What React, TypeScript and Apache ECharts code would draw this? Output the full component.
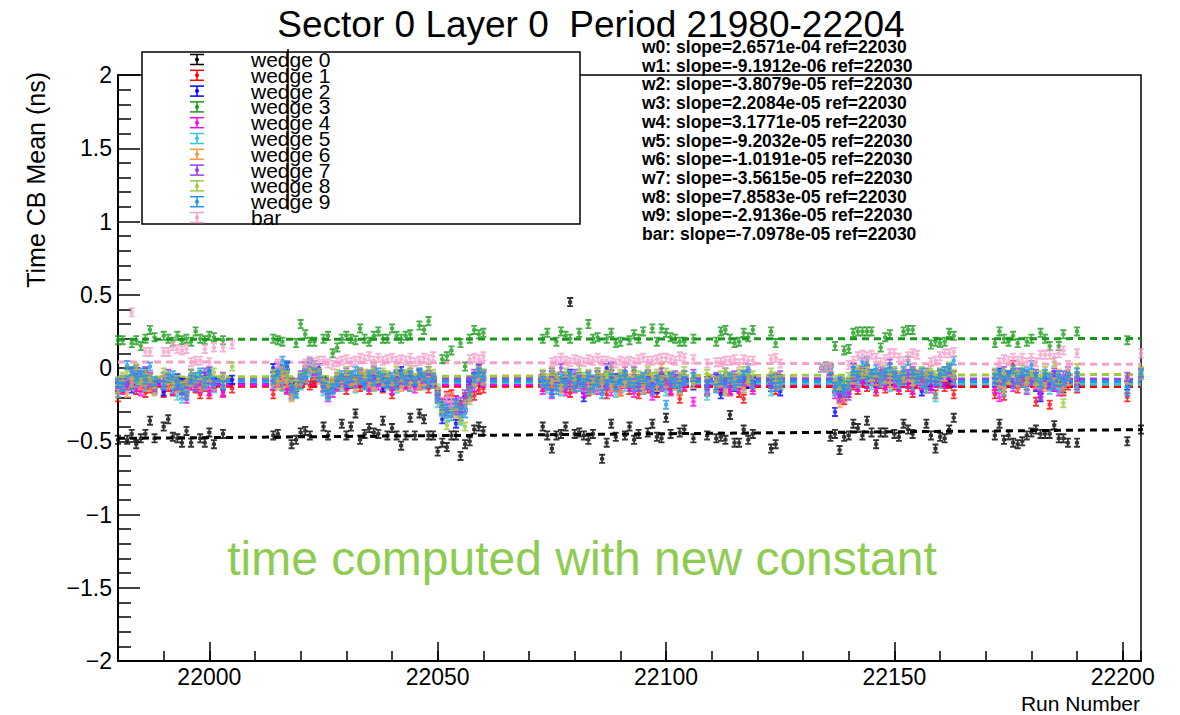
import React, { useEffect, useRef } from 'react';
import * as echarts from 'echarts';

// ---- run numbers (x categories), grouped by data-taking block ----
const RUNS_A = [21980, 21981, 21982, 21983, 21984, 21985, 21986, 21987, 21988, 21990, 21991, 21992, 21993, 21994, 21995, 21996, 21997, 21998, 21999, 22000, 22001, 22003, 22005];
const RUNS_B = [22014, 22015, 22016, 22017, 22018, 22019, 22020, 22021, 22022, 22023, 22024, 22025, 22026, 22027, 22028, 22029, 22030, 22031, 22032, 22033, 22034, 22035, 22036, 22037, 22038, 22039, 22040, 22041, 22042, 22043, 22044, 22045, 22046, 22047, 22048, 22049, 22050, 22051, 22052, 22053, 22054, 22055, 22056, 22057, 22058, 22059, 22060];
const RUNS_C = [22073, 22074, 22075, 22076, 22077, 22078, 22079, 22080, 22081, 22082, 22083, 22084, 22085, 22086, 22087, 22088, 22089, 22090, 22091, 22092, 22093, 22094, 22095, 22096, 22097, 22098, 22099, 22100, 22101, 22102, 22103, 22104, 22106, 22109, 22111, 22112, 22113, 22114, 22115, 22116, 22117, 22118, 22119, 22123, 22124, 22125];
const RUNS_D = [22134, 22135, 22136, 22137, 22138, 22139, 22140, 22141, 22142, 22143, 22144, 22145, 22146, 22147, 22148, 22149, 22150, 22151, 22152, 22153, 22154, 22155, 22156, 22157, 22158, 22159, 22160, 22161, 22162, 22163];
const RUNS_E = [22172, 22173, 22174, 22175, 22176, 22177, 22178, 22179, 22180, 22181, 22182, 22183, 22184, 22185, 22186, 22187, 22188, 22190];
const RUNS_F = [22201, 22204];
const RUNS = [...RUNS_A, ...RUNS_B, ...RUNS_C, ...RUNS_D, ...RUNS_E, ...RUNS_F];

// ---- Time CB mean (ns) per run, one array per wedge (blocks A..F) ----
const W0 = [
  -.49, null, -.49, -.45, -.52, -.48, -.45, -.36, -.48, -.40, -.35, -.47, -.48, -.51, -.43, -.51, null, -.48, -.51, -.44, -.52, -.45, null,
  -.46, -.45, null, null, -.52, -.49, -.44, -.43, -.46, null, null, -.40, -.46, null, null, -.38, -.46, -.40, -.31, -.49, -.45, -.41, -.44, -.45, -.36, -.46, -.41, -.46, -.53, -.46, -.34, -.46, -.31, -.35, -.46, -.46, -.57, -.51, -.54, -.46, -.46, -.60, -.52, -.50, -.42, -.40, -.43,
  -.40, -.46, -.55, -.46, -.45, -.40, .45, -.45, -.44, -.46, -.49, -.45, null, -.62, -.51, -.38, -.47, null, -.46, -.40, -.49, -.45, null, -.44, -.38, -.47, -.48, -.34, -.45, null, -.44, -.42, -.48, -.46, -.48, -.47, -.49, -.32, -.51, -.51, -.42, -.49, -.45, -.55, -.52, null,
  .00, .00, -.47, -.45, -.56, -.47, -.46, -.38, -.41, -.46, -.36, -.44, -.52, -.44, -.44, null, -.45, -.47, -.38, -.42, -.45, null, null, -.38, -.46, -.55, -.47, -.48, -.42, -.34,
  -.46, -.38, -.49, -.46, -.51, -.52, -.50, -.46, -.44, -.42, -.45, -.45, -.45, -.39, -.48, -.48, -.51, -.51,
  -.50, -.42,
];
const W1 = [
  -.20, -.14, -.12, -.11, -.15, -.13, -.17, -.14, -.12, -.17, -.13, -.16, -.12, -.15, -.10, -.12, -.14, -.18, -.13, -.18, -.12, -.16, -.14,
  -.18, -.07, -.12, -.14, -.16, -.13, -.11, -.08, -.12, -.10, -.06, -.13, -.17, -.14, -.12, -.10, -.15, -.11, -.09, -.13, -.11, -.15, -.12, -.08, -.14, -.10, -.18, -.12, -.09, -.11, -.13, -.08, -.12, -.10, -.14, -.11, -.21, -.28, -.19, -.18, -.22, -.25, -.20, -.17, -.19, -.15, -.14,
  -.13, -.10, -.15, -.12, -.09, -.14, -.17, -.11, -.13, -.08, -.16, -.12, -.10, -.14, -.18, -.09, -.13, -.16, -.11, -.15, -.12, -.18, -.10, -.14, -.13, -.17, -.08, -.12, -.15, -.11, -.21, -.13, -.10, -.16, -.12, -.14, -.09, -.15, -.12, -.17, -.21, -.11, -.13, -.10, -.15, -.12,
  .00, .00, -.01, -.14, -.19, -.22, -.17, -.12, -.15, -.10, -.13, -.09, -.16, -.11, -.14, -.08, -.12, -.15, -.10, -.13, -.17, -.11, -.09, -.14, -.12, -.18, -.10, -.13, -.11, -.18,
  -.18, -.12, -.19, -.10, .02, -.14, -.09, -.12, -.08, -.23, -.15, -.11, -.25, -.13, -.10, -.16, -.12, -.14,
  -.20, null,
];
const W2 = [
  -.13, -.10, -.08, -.14, -.05, -.09, -.03, -.07, -.11, -.16, -.08, -.12, -.07, -.10, -.14, -.04, -.09, -.13, -.06, -.02, -.10, -.12, -.08,
  .00, -.05, -.02, .01, -.10, -.13, -.08, -.04, .02, -.03, .00, -.09, -.14, -.12, -.10, -.07, -.11, -.05, -.08, -.03, -.06, -.10, -.04, -.09, -.13, -.07, -.11, -.05, -.02, -.08, -.06, -.10, -.04, -.07, -.05, -.09, -.18, -.35, -.30, -.24, -.38, -.33, -.22, -.12, -.06, .00, -.04,
  -.07, -.11, -.05, -.09, -.13, -.08, -.04, -.10, -.06, -.20, -.12, -.08, -.05, -.09, .00, .01, -.07, -.11, -.06, -.10, -.02, -.08, -.12, -.05, -.09, -.14, -.07, -.10, -.06, -.11, -.08, -.05, -.12, -.09, -.07, -.18, -.10, -.06, -.13, -.08, -.05, -.11, -.09, -.13, -.07, -.16,
  .00, .00, .00, -.30, -.16, -.12, -.10, .00, -.06, -.03, -.08, -.05, -.10, -.07, -.04, -.09, -.06, -.11, -.05, -.08, -.03, -.07, -.16, -.10, -.12, -.08, -.05, -.09, -.06, -.10,
  -.10, -.03, -.08, -.05, -.11, -.07, -.04, -.09, -.06, -.13, -.20, -.08, -.12, -.05, -.09, -.14, -.07, -.10,
  -.12, null,
];
const W3 = [
  .19, .19, null, .17, .19, .15, .20, .26, .21, .22, .20, .18, .22, .19, .20, .18, .25, .20, .19, .22, .21, .19, null,
  .20, .19, .18, null, null, .17, .30, .23, .18, .18, null, .20, .22, .10, .14, .20, .22, .20, .19, .27, .20, .18, .22, .25, .20, .20, .27, .22, .20, .22, .23, null, .29, .26, .32, null, null, .06, .08, .12, null, .17, .01, .20, .26, .23, .24,
  .20, .24, null, .18, .25, .22, .20, null, .24, null, .30, .20, .21, null, .20, .24, .17, .18, null, .19, .23, .20, .25, null, .27, .18, .27, .24, .21, .20, .18, .18, .20, null, .18, .25, .26, .20, .17, .18, .24, .21, .26, .25, .17, null,
  null, null, null, .15, null, .12, .13, .24, .25, .25, .25, .25, null, .14, .21, .23, null, null, .25, .26, .26, null, null, null, .16, .18, .17, .18, .24, .22,
  .17, .25, .20, .18, .22, .17, null, .18, .20, null, .24, .20, .15, null, .15, .23, null, .25,
  .19, null,
];
const W4 = [
  -.12, -.15, -.10, -.08, -.13, -.16, -.11, -.06, -.14, -.12, -.09, -.15, -.13, -.18, -.21, -.12, -.10, -.14, -.11, -.16, -.13, -.17, null,
  -.12, -.10, -.08, -.15, -.18, -.12, -.09, -.05, -.01, -.04, -.07, -.14, -.20, -.17, -.13, -.09, -.12, -.08, -.11, -.06, -.10, -.13, -.07, -.12, -.09, -.11, -.15, -.10, -.07, -.12, -.09, -.14, -.08, -.11, -.06, -.10, -.19, -.26, -.31, -.27, -.22, -.30, -.27, -.20, -.13, -.08, -.10,
  -.15, -.12, -.18, -.09, -.13, -.16, -.10, -.14, -.11, -.17, -.08, -.13, -.15, -.10, -.12, -.16, -.09, -.14, -.11, -.13, -.17, -.10, -.15, -.12, -.19, -.08, -.13, -.11, -.16, -.10, -.14, -.12, -.23, -.15, -.09, -.13, -.11, -.16, -.10, -.14, -.12, -.09, -.15, -.11, -.13, -.10,
  .00, .00, -.02, -.18, -.21, -.20, -.15, -.10, -.13, -.08, -.11, -.07, -.14, -.09, -.12, -.06, -.10, -.13, -.08, -.11, -.15, -.09, -.12, -.07, -.14, -.10, -.08, -.11, -.05, -.09,
  -.14, -.20, -.11, -.08, -.13, -.06, -.10, -.15, -.09, -.12, -.17, -.11, -.07, -.13, -.16, -.10, -.08, -.12,
  null, null,
];
const W5 = [
  -.17, -.13, -.09, -.12, -.10, -.07, -.13, -.09, -.15, -.11, -.08, -.14, -.19, -.21, -.16, -.10, -.13, -.05, -.12, -.09, -.14, -.11, null,
  -.11, -.08, -.13, -.06, -.19, -.18, -.12, -.07, -.03, .00, -.05, -.16, -.19, -.15, -.11, -.13, -.08, -.10, -.14, -.07, -.11, -.09, -.13, -.06, -.10, -.12, -.08, -.14, -.11, -.09, -.13, -.07, -.10, -.12, -.08, -.11, -.24, -.30, -.34, -.28, -.25, -.36, -.25, -.18, -.10, -.06, -.09,
  -.10, -.14, -.08, -.12, -.16, -.09, -.11, -.07, -.13, -.10, -.15, -.08, -.12, -.14, -.06, -.11, -.17, -.09, -.13, -.10, -.08, -.12, -.15, -.07, -.11, -.13, -.09, -.16, -.10, -.12, -.14, -.08, -.11, -.19, -.13, -.09, -.15, -.07, -.12, -.10, -.14, -.08, -.11, -.16, -.09, -.12,
  .00, .01, -.03, -.16, -.14, -.18, -.11, -.07, -.10, -.05, -.09, -.12, -.06, -.10, -.08, -.13, -.07, -.11, -.09, -.05, -.12, -.08, -.10, -.14, -.07, -.20, -.11, -.06, -.03, -.08,
  -.09, -.13, -.16, -.07, -.11, -.05, -.10, -.14, -.08, -.06, -.12, -.09, -.15, -.07, -.14, -.11, -.09, -.13,
  -.10, null,
];
const W6 = [
  -.14, -.11, -.17, -.10, -.06, -.12, -.09, -.13, -.16, -.08, -.11, -.10, -.14, -.12, -.17, -.09, -.11, -.13, -.10, -.07, -.12, -.10, null,
  -.09, -.12, -.06, -.10, -.20, -.15, -.08, -.02, .01, -.05, -.08, -.12, -.16, -.10, -.07, -.11, -.05, -.09, -.13, -.08, -.04, -.10, -.12, -.07, -.09, -.06, -.11, -.08, -.13, -.05, -.10, -.07, -.12, -.09, -.06, -.08, -.17, -.23, -.28, -.20, -.31, -.26, -.21, -.15, -.09, -.05, -.08,
  -.08, -.12, -.10, -.06, -.14, -.11, -.09, -.13, -.07, -.12, -.10, -.15, -.08, -.11, -.05, -.13, -.09, -.16, -.10, -.07, -.12, -.09, -.14, -.11, -.06, -.13, .00, -.10, -.08, -.12, -.15, -.09, -.11, -.07, -.13, -.10, -.16, -.08, -.12, -.10, -.14, -.09, -.11, -.07, -.12, -.10,
  .00, .00, -.02, -.12, -.24, -.20, -.13, -.08, -.05, -.02, .04, -.06, -.09, -.04, -.07, -.10, -.05, -.08, -.03, -.06, -.09, -.04, -.07, -.11, -.05, -.08, -.03, -.06, -.02, -.05,
  -.06, -.10, -.14, -.08, -.03, -.12, -.07, -.09, -.05, -.11, -.08, -.13, -.06, -.10, -.04, -.15, -.09, -.07,
  -.08, -.05,
];
const W7 = [
  -.11, -.08, -.12, -.03, -.01, -.05, -.02, -.10, -.13, -.06, -.04, -.09, -.12, -.15, -.11, -.07, -.13, -.09, -.03, -.08, -.11, -.06, null,
  -.06, .00, -.01, -.04, -.12, -.10, -.05, .01, .03, -.02, -.04, -.10, -.15, -.11, -.06, -.08, -.03, -.07, -.10, -.04, -.08, -.06, -.02, -.09, -.05, -.07, -.11, -.04, -.08, -.06, -.03, -.09, -.05, -.07, -.02, -.06, -.16, -.24, -.22, -.25, -.29, -.23, -.18, -.09, -.04, -.01, -.05,
  -.05, -.09, -.03, -.07, .00, -.06, -.10, -.04, -.08, -.12, -.05, -.09, -.03, -.07, -.11, -.04, -.08, -.06, -.02, -.09, -.05, -.13, -.07, -.04, -.10, -.06, -.03, -.08, -.11, -.05, -.07, -.09, -.04, -.12, -.06, -.08, -.03, -.10, -.05, -.07, -.09, -.04, -.08, -.11, -.06, -.05,
  .00, .01, -.02, -.10, -.20, -.17, -.19, -.06, -.03, -.05, -.01, -.04, -.07, -.02, -.05, .03, -.03, -.06, -.08, -.04, -.02, -.05, -.07, -.03, -.06, -.09, -.04, -.02, -.01, -.05,
  -.04, -.08, -.02, -.06, -.10, -.03, -.07, -.05, -.09, -.04, -.19, -.06, -.11, -.03, -.08, -.05, -.02, -.06,
  -.06, -.03,
];
const W8 = [
  -.09, -.06, -.02, -.05, .00, -.08, -.04, -.07, -.11, -.03, -.06, -.10, -.08, -.13, -.09, -.04, -.07, -.05, -.09, -.06, -.03, -.07, .01,
  -.04, -.06, -.02, -.05, -.09, -.11, -.06, -.01, .02, .00, -.03, -.08, -.12, -.09, -.04, -.07, -.02, -.05, -.08, -.03, -.06, -.04, -.01, -.07, -.03, -.05, -.09, -.02, -.06, -.04, -.01, -.07, -.03, -.05, .00, -.04, -.14, -.27, -.39, -.30, -.26, -.35, -.40, -.22, -.08, -.02, -.04,
  -.04, -.07, -.02, -.06, -.09, -.03, -.05, -.08, -.01, -.06, -.04, -.10, -.03, -.07, -.05, -.02, -.08, -.04, -.06, -.09, -.03, -.05, -.07, -.02, -.06, -.04, -.08, -.03, -.05, -.10, -.06, -.02, -.07, -.04, -.09, -.05, -.03, -.06, -.08, -.04, -.02, -.07, -.05, -.03, -.06, -.08,
  .00, .01, .00, -.08, -.12, -.10, -.06, -.03, -.01, -.04, -.02, -.05, -.03, -.06, -.01, -.04, -.02, -.05, -.07, .05, -.03, -.06, -.02, -.04, -.01, -.05, -.03, -.02, .01, -.04,
  -.03, -.06, -.04, -.08, -.02, -.05, -.01, -.07, -.03, -.09, -.05, -.02, -.06, .04, -.08, -.24, -.04, .00,
  null, -.02,
];
const W9 = [
  -.10, -.13, .02, -.02, -.06, -.03, -.08, .01, -.09, -.12, -.07, -.05, -.11, -.14, -.19, -.08, -.06, -.03, -.10, -.04, -.09, -.12, null,
  -.08, -.03, .05, .02, -.14, -.17, -.07, -.03, .04, .02, -.06, -.13, -.18, -.14, -.09, -.05, -.10, -.06, -.02, -.08, -.12, -.05, -.09, -.03, -.07, -.10, -.06, -.11, -.04, -.08, -.05, -.09, -.03, -.06, -.10, -.07, -.20, -.26, -.28, -.33, -.24, -.29, -.31, -.16, -.07, -.03, -.06,
  -.09, -.12, -.17, -.15, -.07, -.11, -.05, -.13, -.08, -.10, -.06, -.14, -.09, -.18, -.11, -.07, -.12, -.08, -.05, -.10, -.13, -.09, -.06, -.11, -.15, -.08, -.12, -.25, -.07, -.10, -.13, -.09, -.06, -.11, -.14, -.08, -.10, -.07, -.12, -.09, -.05, .00, -.11, -.08, -.13, -.10,
  .00, .00, -.01, -.13, -.09, -.15, -.12, -.02, -.05, .04, .05, -.04, -.01, -.06, -.03, .00, -.05, -.08, -.02, .05, -.04, -.07, -.03, -.11, -.06, -.09, -.04, -.02, .00, .05,
  -.07, -.04, -.09, -.05, -.01, -.08, -.03, -.02, .02, -.06, -.10, -.04, -.07, -.12, -.05, -.09, -.06, -.03,
  -.16, -.04,
];
const BAR = [
  null, null, null, .38, null, null, .11, .11, null, .11, .11, .15, .13, .12, .13, .04, .05, .05, .13, .04, .14, .14, .16,
  null, .03, null, null, null, null, null, .03, .05, .04, .05, .05, .03, .02, .04, .05, .06, .04, .05, .07, .06, .08, .05, .07, .05, .06, .07, .05, .06, .05, .07, .04, .05, .07, .06, .08, null, null, -.20, -.23, null, null, null, .06, .07, .06, .08,
  null, null, .04, .05, .07, .05, .04, .06, .05, .04, .06, .05, .07, .05, .05, .04, .03, .05, .04, .05, .04, .06, .07, .05, .05, .06, .07, .07, .06, .05, .08, .07, .06, .03, .04, .04, .05, .05, .06, .03, .06, .05, .05, .06, .07, .03,
  .00, .00, .01, null, null, null, .02, .05, .08, .09, .08, .09, .07, .04, .06, .10, .10, .07, .05, .08, .10, .09, null, null, .04, .05, .08, .10, .10, .11,
  null, .04, .06, .05, .07, .05, .07, .04, .07, .04, .09, .09, .09, .07, .10, .12, .02, .10,
  null, .10,
];

// ---- series meta + linear fits (value at ref run, slope per run) ----
const SERIES_NAMES = ['wedge 0', 'wedge 1', 'wedge 2', 'wedge 3', 'wedge 4', 'wedge 5', 'wedge 6', 'wedge 7', 'wedge 8', 'wedge 9', 'bar'];
const SHORT_NAMES = ['w0', 'w1', 'w2', 'w3', 'w4', 'w5', 'w6', 'w7', 'w8', 'w9', 'bar'];
const COLORS = ['#000000', '#ff0000', '#0000ff', '#1a9a1a', '#ff00ff', '#33cccc', '#f79a45', '#9a3df0', '#9ccb3c', '#1e96f0', '#f5a0cb'];
const FIT_SLOPES = [2.6571e-04, -9.1912e-06, -3.8079e-05, 2.2084e-05, 3.1771e-05, -9.2032e-05, -1.0191e-05, -3.5615e-05, 7.8583e-05, -2.9136e-05, -7.0978e-05];
const FIT_AT_REF = [-0.467, -0.125, -0.100, 0.197, -0.113, -0.095, -0.080, -0.070, -0.058, -0.088, 0.038];
const REF_RUN = 22030;
const RUN_MIN = 21980;
const RUN_MAX = 22204;
const X_MAJOR = [22000, 22050, 22100, 22150, 22200];
const TITLE = 'Sector 0 Layer 0  Period 21980-22204';
const NOTE = 'time computed with new constant';

const ALL_VALUES = [W0, W1, W2, W3, W4, W5, W6, W7, W8, W9, BAR];

const FONT = '"Liberation Sans", Arial, Helvetica, sans-serif';
const ERR_SYMBOL = 'path://M0,0H10V3H6.5V5.5H8.5V10.5H6.5V13H10V16H0V13H3.5V10.5H1.5V5.5H3.5V3H0Z';

function fmtSlope(s: number) {
  return s.toExponential(4).replace(/e([+-])(\d)$/, 'e$10$2');
}

function buildOption() {
  const series: any[] = [];
  ALL_VALUES.forEach((vals, k) => {
    const data: number[][] = [];
    RUNS.forEach((r, i) => {
      const v = vals[i];
      if (v !== null && v !== undefined) data.push([r, v]);
    });
    series.push({
      type: 'scatter',
      name: SERIES_NAMES[k],
      data,
      symbol: ERR_SYMBOL,
      symbolSize: [6, 10],
      itemStyle: { color: COLORS[k] },
      silent: true,
      z: 2,
    });
    const a = FIT_AT_REF[k];
    const s = FIT_SLOPES[k];
    series.push({
      type: 'line',
      data: [
        [RUN_MIN, a + s * (RUN_MIN - REF_RUN)],
        [RUN_MAX, a + s * (RUN_MAX - REF_RUN)],
      ],
      symbol: 'none',
      lineStyle: { color: COLORS[k], width: 3, type: [7, 5] },
      silent: true,
      z: 2,
    });
  });

  const graphic: any[] = [];
  graphic.push({
    type: 'text', x: 591, y: 24,
    style: { text: TITLE, fill: '#000', fontSize: 37, fontFamily: FONT, align: 'center', verticalAlign: 'middle' },
  });
  graphic.push({
    type: 'text', x: 36, y: 72, rotation: Math.PI / 2,
    style: { text: 'Time CB Mean (ns)', fill: '#000', fontSize: 25, fontFamily: FONT, align: 'right', verticalAlign: 'middle' },
  });
  graphic.push({
    type: 'text', x: 1140, y: 703,
    style: { text: 'Run Number', fill: '#000', fontSize: 21, fontFamily: FONT, align: 'right', verticalAlign: 'middle' },
  });
  graphic.push({
    type: 'text', x: 582, y: 558,
    style: { text: NOTE, fill: '#8dcc50', fontSize: 48, fontFamily: FONT, align: 'center', verticalAlign: 'middle' },
  });
  SHORT_NAMES.forEach((n, i) => {
    graphic.push({
      type: 'text', x: 642, y: 47 + i * 18.7,
      style: {
        text: `${n}: slope=${fmtSlope(FIT_SLOPES[i])} ref=${REF_RUN}`,
        fill: '#000', fontSize: 17.5, fontWeight: 'bold', fontFamily: FONT, align: 'left', verticalAlign: 'middle',
      },
    });
  });
  graphic.push({
    type: 'rect', shape: { x: 142, y: 52, width: 438, height: 172 },
    style: { fill: '#fff', stroke: '#000', lineWidth: 1.5 }, z: 10,
  });
  SERIES_NAMES.forEach((n, i) => {
    const y = 59.5 + i * 15.8;
    const c = COLORS[i];
    const gx = 197;
    graphic.push({ type: 'line', shape: { x1: gx, y1: y - 5, x2: gx, y2: y + 5 }, style: { stroke: c, lineWidth: 1.5 }, z: 11 });
    graphic.push({ type: 'line', shape: { x1: gx - 7, y1: y - 5, x2: gx + 7, y2: y - 5 }, style: { stroke: c, lineWidth: 1.5 }, z: 11 });
    graphic.push({ type: 'line', shape: { x1: gx - 7, y1: y + 5, x2: gx + 7, y2: y + 5 }, style: { stroke: c, lineWidth: 1.5 }, z: 11 });
    graphic.push({ type: 'circle', shape: { cx: gx, cy: y, r: 2 }, style: { fill: c }, z: 11 });
    graphic.push({
      type: 'text', x: 251, y, z: 11,
      style: { text: n, fill: '#000', fontSize: 21, fontFamily: FONT, align: 'left', verticalAlign: 'middle' },
    });
  });
  graphic.push({ type: 'line', shape: { x1: 288, y1: 49, x2: 288, y2: 210 }, style: { stroke: '#000', lineWidth: 1.5 }, z: 12 });

  const tickLabel = { color: '#000', fontSize: 23, fontFamily: FONT };

  return {
    animation: false,
    backgroundColor: '#fff',
    grid: { left: 118, top: 75, width: 1023, height: 586, show: true, borderColor: '#000', borderWidth: 1.5, backgroundColor: 'transparent' },
    xAxis: [
      {
        type: 'value', min: RUN_MIN, max: RUN_MAX, position: 'bottom',
        axisLine: { show: true, onZero: false, lineStyle: { color: '#000', width: 2 } },
        axisTick: { show: true, inside: true, length: 19, customValues: X_MAJOR, lineStyle: { color: '#000', width: 1.5 } },
        axisLabel: { ...tickLabel, margin: 4, customValues: X_MAJOR, formatter: (v: number) => String(v) },
        splitLine: { show: false },
      },
      {
        type: 'value', min: RUN_MIN, max: RUN_MAX, interval: 10, position: 'bottom', offset: 0,
        axisLine: { show: false, onZero: false },
        axisTick: { show: true, inside: true, length: 10, lineStyle: { color: '#000', width: 1.5 } },
        axisLabel: { show: false },
        splitLine: { show: false },
      },
    ],
    yAxis: {
      type: 'value', min: -2, max: 2, interval: 0.5,
      axisLine: { show: true, onZero: false, lineStyle: { color: '#000', width: 2 } },
      axisTick: { show: true, inside: true, length: 22, lineStyle: { color: '#000', width: 1.5 } },
      minorTick: { show: true, splitNumber: 5, length: 13, lineStyle: { color: '#000', width: 1.5 } },
      axisLabel: { ...tickLabel, margin: 6, formatter: (v: number) => (v < 0 ? '\u2212' + String(-v) : String(Math.abs(v))) },
      splitLine: { show: false },
    },
    series,
    graphic,
  };
}

export default function App() {
  const ref = useRef<HTMLDivElement>(null);
  useEffect(() => {
    if (!ref.current) return;
    const chart = echarts.init(ref.current, null, { renderer: 'svg' });
    chart.setOption(buildOption() as any);
    return () => chart.dispose();
  }, []);
  return (
    <div
      ref={ref}
      style={{ position: 'fixed', left: 0, top: 0, width: 1180, height: 715, background: '#fff' }}
    />
  );
}
